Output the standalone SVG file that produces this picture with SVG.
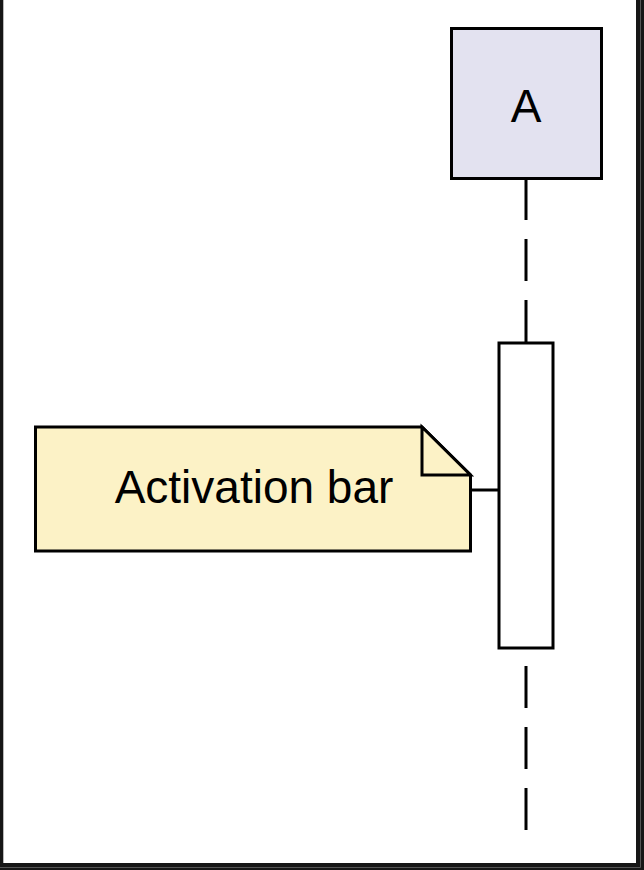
<svg xmlns="http://www.w3.org/2000/svg" width="644" height="870" viewBox="0 0 644 870">
  <style>
    .ln { stroke: #000; stroke-width: 3; }
    .lbl { font-family: "Liberation Sans", Arial, sans-serif; fill: #000; text-anchor: middle; }
  </style>
  <g id="frame">
    <rect x="0" y="0" width="644" height="870" fill="#161616"/>
    <path d="M640.5,0 V867.5 H0" fill="none" stroke="#555" stroke-width="1"/>
    <rect x="3.3" y="-5" width="632.7" height="868" fill="#ffffff"/>
  </g>
  <g id="connectors">
    <line id="lifeline-A" class="ln" x1="526" y1="178" x2="526" y2="830" stroke-dasharray="42 19"/>
    <line id="note-link" class="ln" x1="470.5" y1="490" x2="499" y2="490"/>
  </g>
  <g id="actor-A">
    <rect x="451.5" y="28.5" width="150" height="150" fill="#e3e2f0" class="ln"/>
    <text class="lbl" x="526" y="122" font-size="46">A</text>
  </g>
  <g id="activation-A">
    <rect x="499" y="343" width="54" height="305" fill="#ffffff" class="ln"/>
  </g>
  <g id="note">
    <path d="M35.5,427 L422,427 L470.5,475 L470.5,551 L35.5,551 Z" fill="#fcf2c6" class="ln" stroke-linejoin="miter"/>
    <path d="M422,427 L422,475 L470.5,475 Z" fill="#fcf2c6" class="ln"/>
    <text class="lbl" x="254" y="503" font-size="46">Activation bar</text>
  </g>
</svg>
